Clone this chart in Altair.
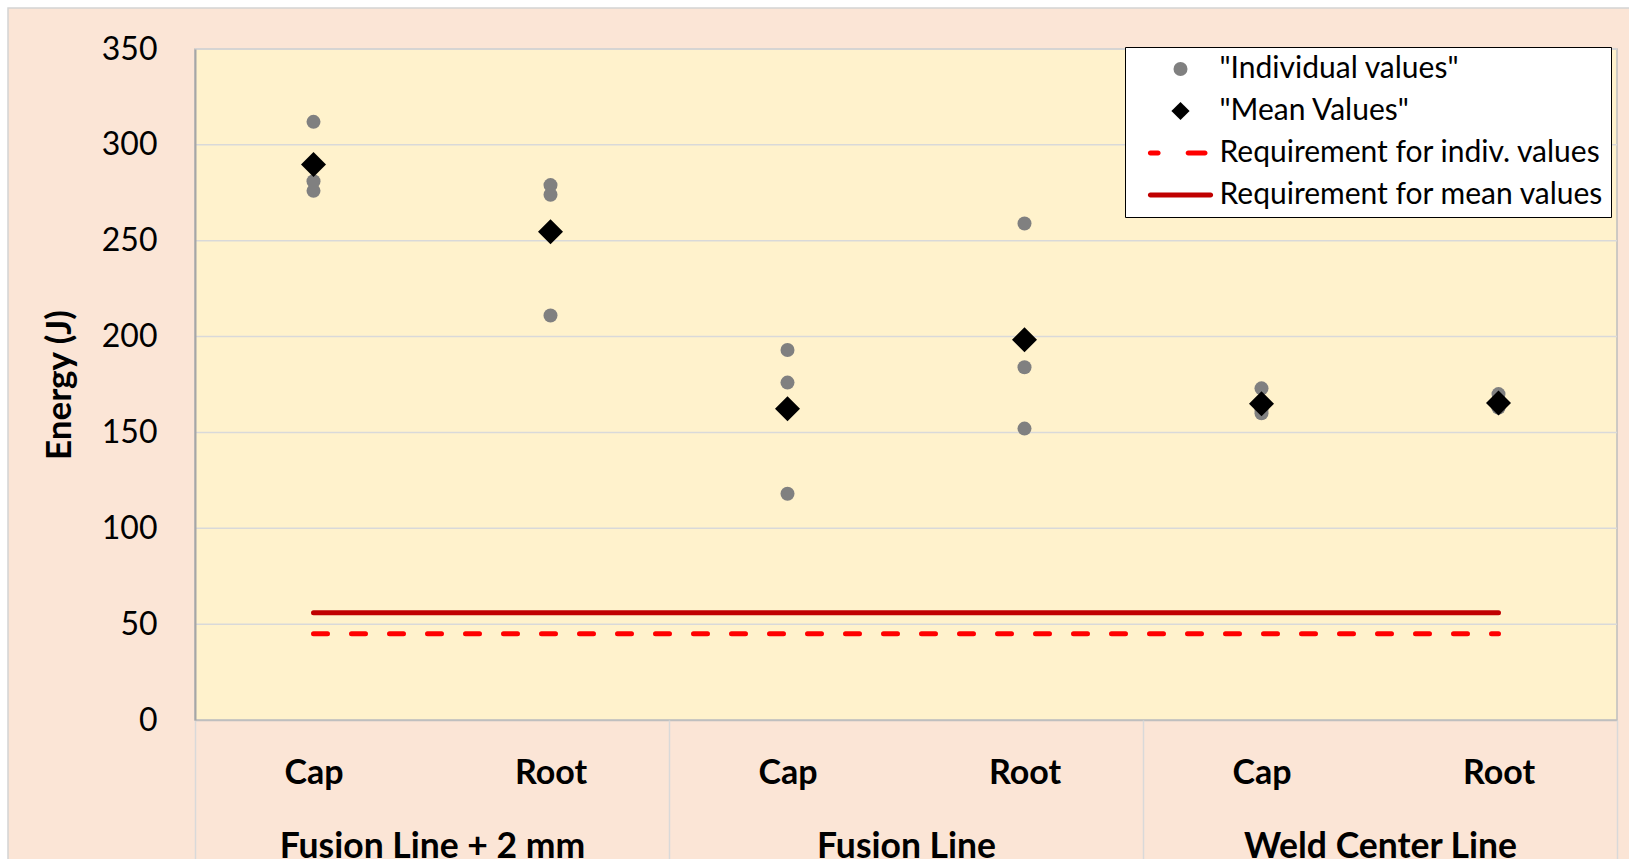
import json

import altair as alt
import pandas as pd

# ---- data -------------------------------------------------------------
groups = ["Fusion Line + 2 mm", "Fusion Line", "Weld Center Line"]
positions = ["Cap", "Root"]

# Charpy impact energy (J), three specimens per notch location,
# in the order FL+2 Cap, FL+2 Root, FL Cap, FL Root, WCL Cap, WCL Root
individual_values = [
    [312, 281, 276],
    [279, 274, 211],
    [193, 176, 118],
    [259, 184, 152],
    [173, 162, 160],
    [170, 163, 163],
]
mean_values = [289.7, 254.7, 162.3, 198.3, 165.0, 165.3]

req_individual = 45
req_mean = 56

y_ticks = [0, 50, 100, 150, 200, 250, 300, 350]

series = [
    '"Individual values"',
    '"Mean Values"',
    "Requirement for indiv. values",
    "Requirement for mean values",
]

# ---- tables -----------------------------------------------------------
n_slots = len(groups) * len(positions)
y_max = y_ticks[-1]

ind_df = pd.DataFrame(
    [
        {"slot": k + 0.5, "energy": v, "series": series[0]}
        for k, vals in enumerate(individual_values)
        for v in vals
    ]
)
mean_df = pd.DataFrame(
    [{"slot": k + 0.5, "energy": v, "series": series[1]} for k, v in enumerate(mean_values)]
)
req_df = pd.DataFrame(
    [
        {"x0": 0.5, "x1": n_slots - 0.5, "energy": req_individual, "series": series[2]},
        {"x0": 0.5, "x1": n_slots - 0.5, "energy": req_mean, "series": series[3]},
    ]
)
plot_df = pd.DataFrame([{"x0": 0, "x1": n_slots, "y0": 0, "y1": y_max}])
grid_df = pd.DataFrame({"energy": y_ticks[1:], "x0": 0, "x1": n_slots})
group_df = pd.DataFrame({"gslot": [2 * i + 1 for i in range(len(groups))]})
edge_df = pd.DataFrame({"edge": [2 * i for i in range(len(groups) + 1)]})

# ---- styling ----------------------------------------------------------
FONT = "Lato"
PINK = "#FBE5D6"
CREAM = "#FFF2CC"
GRID = "#D9D9D9"
RED = "#FF0000"
DARK_RED = "#C00000"

# overall canvas / frame geometry (pixels)
FRAME = 8                    # white margin above and left of the pink panel
CANVAS_W, CANVAS_H = 1629, 859
BLEED = 10                   # pink panel runs past the right and bottom edges
PANEL_W = CANVAS_W - FRAME + BLEED
PANEL_H = CANVAS_H - FRAME + BLEED
PLOT_X0, PLOT_X1 = 187, 1609  # data rectangle inside the pink panel
PLOT_Y0, PLOT_Y1 = 41, 712

# Legend glyphs for the two requirement lines are drawn as filled bars
# (rounded ends), so every legend symbol is a fill-only shape.
DASHED_BAR = (
    "M-4.3,-0.36H-3.2A0.36,0.36,0,0,1,-3.2,0.36H-4.3A0.36,0.36,0,0,1,-4.3,-0.36Z"
    "M1.1,-0.36H3.5A0.36,0.36,0,0,1,3.5,0.36H1.1A0.36,0.36,0,0,1,1.1,-0.36Z"
)
SOLID_BAR = "M-4.3,-0.36H4.3A0.36,0.36,0,0,1,4.3,0.36H-4.3A0.36,0.36,0,0,1,-4.3,-0.36Z"
DIAMOND = "M0,-1.3L1.3,0L0,1.3L-1.3,0Z"

fills = ["#808080", "#000000", RED, DARK_RED]
strokes = ["transparent", "transparent", RED, DARK_RED]
shapes = ["circle", DIAMOND, DASHED_BAR, SOLID_BAR]
dashes = [[1, 0], [1, 0], [14, 24], [1, 0]]

legend = alt.Legend(
    title=None,
    orient="none",
    legendX=1117,
    legendY=39,
    fillColor="white",
    strokeColor="black",
    cornerRadius=0,
    padding=7,
    rowPadding=12,
    symbolSize=196,
    symbolStrokeWidth=0,
    symbolOffset=33.5,
    labelOffset=24,
    labelFont=FONT,
    labelFontSize=30,
    labelColor="black",
    labelLimit=0,
)

fill_enc = alt.Fill("series:N", scale=alt.Scale(domain=series, range=fills), legend=legend)
stroke_enc = alt.Stroke("series:N", scale=alt.Scale(domain=series, range=strokes), legend=legend)
shape_enc = alt.Shape("series:N", scale=alt.Scale(domain=series, range=shapes), legend=legend)
dash_enc = alt.StrokeDash("series:N", scale=alt.Scale(domain=series, range=dashes), legend=None)

x_scale = alt.Scale(domain=[0, n_slots], range=[PLOT_X0, PLOT_X1], nice=False, zero=False)
y_scale = alt.Scale(domain=[0, y_max], range=[PLOT_Y1, PLOT_Y0], nice=False)

pos_labels = json.dumps(positions)
group_labels = json.dumps(groups)
x_offset = PLOT_Y1 - PANEL_H   # lift the bottom axes up to the data rectangle

cat_axis = alt.Axis(
    values=[k + 0.5 for k in range(n_slots)],
    labelExpr=f"{pos_labels}[floor(datum.value) % 2]",
    orient="bottom",
    offset=x_offset,
    zindex=1,
    title=None,
    grid=False,
    ticks=False,
    tickSize=0,
    domain=True,
    domainColor="#BFBFBF",
    domainWidth=1.5,
    labelFont=FONT,
    labelFontSize=34,
    labelFontWeight="bold",
    labelColor="black",
    labelPadding=36,
    labelFlush=False,
    labelOverlap=False,
    labelLimit=0,
)
group_axis = alt.Axis(
    values=group_df["gslot"].tolist(),
    labelExpr=f"{group_labels}[floor(datum.value / 2)]",
    orient="bottom",
    offset=x_offset,
    zindex=1,
    title=None,
    grid=False,
    ticks=False,
    tickSize=0,
    domain=False,
    labelFont=FONT,
    labelFontSize=35.5,
    labelFontWeight="bold",
    labelColor="black",
    labelPadding=109,
    labelFlush=False,
    labelOverlap=False,
    labelLimit=0,
)
edge_axis = alt.Axis(
    values=edge_df["edge"].tolist(),
    orient="bottom",
    offset=x_offset,
    zindex=1,
    title=None,
    grid=False,
    labels=False,
    domain=False,
    ticks=True,
    tickSize=150,
    tickColor=GRID,
    tickWidth=1.5,
)
y_axis = alt.Axis(
    values=y_ticks,
    orient="left",
    offset=-PLOT_X0,
    zindex=1,
    title="Energy (J)",
    titleFont=FONT,
    titleFontSize=35,
    titleFontWeight="bold",
    titleColor="black",
    titlePadding=24,
    grid=False,
    ticks=False,
    tickSize=0,
    domain=True,
    domainColor="#A6A6A6",
    domainWidth=2,
    labelFont=FONT,
    labelFontSize=32,
    labelColor="black",
    labelPadding=38,
)

# ---- layers -----------------------------------------------------------
plot_area = alt.Chart(plot_df).mark_rect(fill=CREAM, stroke="#BFBFBF", strokeWidth=1.5).encode(
    x=alt.X("x0:Q", scale=x_scale, axis=None),
    x2="x1:Q",
    y=alt.Y("y0:Q", scale=y_scale, axis=y_axis),
    y2="y1:Q",
)

gridlines = alt.Chart(grid_df).mark_rule(color=GRID, strokeWidth=1.5).encode(
    x=alt.X("x0:Q", scale=x_scale, axis=None),
    x2="x1:Q",
    y=alt.Y("energy:Q", scale=y_scale, axis=y_axis),
)

requirements = alt.Chart(req_df).mark_rule(strokeWidth=5, strokeCap="round").encode(
    x=alt.X("x0:Q", scale=x_scale, axis=None),
    x2="x1:Q",
    y=alt.Y("energy:Q", scale=y_scale, axis=y_axis),
    stroke=stroke_enc,
    strokeDash=dash_enc,
)

individual = alt.Chart(ind_df).mark_point(filled=True, size=196, opacity=1).encode(
    x=alt.X("slot:Q", scale=x_scale, axis=cat_axis),
    y=alt.Y("energy:Q", scale=y_scale, axis=y_axis),
    fill=fill_enc,
    stroke=stroke_enc,
    shape=shape_enc,
)

means = alt.Chart(mean_df).mark_point(filled=True, size=370, opacity=1).encode(
    x=alt.X("slot:Q", scale=x_scale, axis=None),
    y=alt.Y("energy:Q", scale=y_scale, axis=y_axis),
    fill=fill_enc,
    stroke=stroke_enc,
    shape=shape_enc,
)

group_names = alt.Chart(group_df).mark_point(opacity=0).encode(
    x=alt.X("gslot:Q", scale=x_scale, axis=group_axis),
)

group_edges = alt.Chart(edge_df).mark_point(opacity=0).encode(
    x=alt.X("edge:Q", scale=x_scale, axis=edge_axis),
)

chart = (
    alt.layer(plot_area, gridlines, requirements, individual, means, group_names, group_edges)
    .resolve_axis(x="independent")
    .properties(
        width=PANEL_W,
        height=PANEL_H,
        autosize=alt.AutoSizeParams(type="none"),
        padding={"left": FRAME, "top": FRAME, "right": -BLEED, "bottom": -BLEED},
        background="white",
    )
    .configure(font=FONT)
    .configure_view(fill=PINK, stroke="#D4D4D4", strokeWidth=1.5)
)

chart.save("out.html", embed_options={"renderer": "svg", "actions": False})
